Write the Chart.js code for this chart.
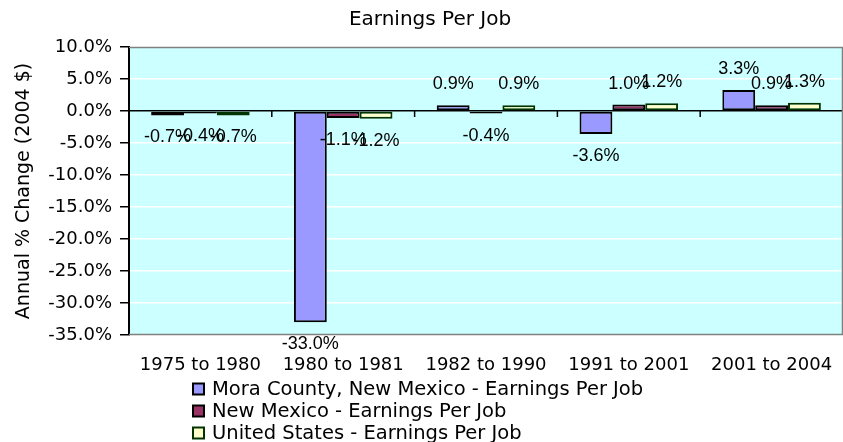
<!DOCTYPE html>
<html>
<head>
<meta charset="utf-8">
<script src="https://cdn.jsdelivr.net/npm/chart.js@4.4.1/dist/chart.umd.min.js"></script>
<style>
  html, body { margin: 0; padding: 0; background: #fff; }
  #wrap { width: 843px; height: 442px; position: relative; }
</style>
</head>
<body>
<div id="wrap"><canvas id="chart"></canvas></div>
<script>
// --- data ---
const categories = ['1975 to 1980', '1980 to 1981', '1982 to 1990', '1991 to 2001', '2001 to 2004'];
const moraCounty = [-0.7, -33.0, 0.9, -3.6, 3.3];
const newMexico = [-0.4, -1.1, -0.4, 1.0, 0.9];
const unitedStates = [-0.7, -1.2, 0.9, 1.2, 1.3];
const seriesNames = [
  'Mora County, New Mexico - Earnings Per Job',
  'New Mexico - Earnings Per Job',
  'United States - Earnings Per Job'
];
const yTicks = { min: -35, max: 10, step: 5 };

const WIDE = '"DejaVu Sans", sans-serif';
const ARIAL = '"Liberation Sans", Arial, sans-serif';

// title, axis title, data labels, legend, plot border
const extras = {
  id: 'extras',
  afterDatasetsDraw(chart) {
    const { ctx, chartArea: a, scales: { x, y } } = chart;
    ctx.save();
    // short tick marks on the zero line between categories
    const y0 = y.getPixelForValue(0);
    ctx.strokeStyle = '#000';
    ctx.lineWidth = 1.5;
    for (let i = 1; i < categories.length; i++) {
      const bx = (x.getPixelForValue(i - 1) + x.getPixelForValue(i)) / 2;
      ctx.beginPath();
      ctx.moveTo(bx, y0);
      ctx.lineTo(bx, y0 + 6);
      ctx.stroke();
    }
    // grey plot border
    ctx.strokeStyle = '#808080';
    ctx.lineWidth = 1.5;
    ctx.beginPath();
    ctx.moveTo(a.left, a.top + 0.5);
    ctx.lineTo(a.right - 0.5, a.top + 0.5);
    ctx.lineTo(a.right - 0.5, a.bottom - 0.5);
    ctx.lineTo(a.left, a.bottom - 0.5);
    ctx.stroke();

    // data labels
    ctx.fillStyle = '#000';
    ctx.font = '18px ' + ARIAL;
    ctx.textAlign = 'center';
    ctx.textBaseline = 'middle';
    chart.data.datasets.forEach((ds, di) => {
      chart.getDatasetMeta(di).data.forEach((el, i) => {
        const v = ds.data[i];
        const ly = v >= 0 ? el.y - 21 : el.y + 22;
        ctx.fillText(v.toFixed(1) + '%', el.x, ly);
      });
    });

    // chart title
    ctx.font = '20px ' + WIDE;
    ctx.fillText('Earnings Per Job', 430, 20);

    // y axis title
    ctx.save();
    ctx.font = '19px ' + WIDE;
    ctx.translate(24, (a.top + a.bottom) / 2);
    ctx.rotate(-Math.PI / 2);
    ctx.fillText('Annual % Change (2004 $)', 0, 0);
    ctx.restore();

    // legend
    ctx.textAlign = 'left';
    ctx.font = '19.5px ' + WIDE;
    chart.data.datasets.forEach((ds, i) => {
      const ly = 389 + i * 22;
      ctx.fillStyle = ds.backgroundColor;
      ctx.fillRect(193, ly - 5.5, 11, 11);
      ctx.strokeStyle = ds.borderColor;
      ctx.lineWidth = 2;
      ctx.strokeRect(193, ly - 5.5, 11, 11);
      ctx.fillStyle = '#000';
      ctx.fillText(ds.label, 212, ly + 1);
    });
    ctx.restore();
  }
};

const plotBg = {
  id: 'plotBg',
  beforeDraw(chart) {
    const { ctx, chartArea: a } = chart;
    ctx.save();
    ctx.fillStyle = '#CCFFFF';
    ctx.fillRect(a.left, a.top, a.right - a.left, a.bottom - a.top);
    ctx.restore();
  }
};

new Chart(document.getElementById('chart'), {
  type: 'bar',
  data: {
    labels: categories,
    datasets: [
      { label: seriesNames[0], data: moraCounty, backgroundColor: '#9999FF', borderColor: '#000000' },
      { label: seriesNames[1], data: newMexico, backgroundColor: '#993366', borderColor: '#000000' },
      { label: seriesNames[2], data: unitedStates, backgroundColor: '#FFFFCC', borderColor: '#003300' }
    ]
  },
  options: {
    responsive: true,
    maintainAspectRatio: false,
    animation: false,
    devicePixelRatio: 1,
    layout: { padding: { top: 47, left: 0, right: 0, bottom: 0 } },
    datasets: {
      bar: { borderWidth: 2, borderSkipped: false, categoryPercentage: 0.69, barPercentage: 1 }
    },
    plugins: {
      legend: { display: false },
      title: { display: false },
      tooltip: { enabled: false }
    },
    scales: {
      x: {
        grid: { display: false, drawTicks: false },
        border: { display: false },
        ticks: { color: '#000', font: { family: WIDE, size: 18 }, padding: 20, maxRotation: 0 },
        afterFit(scale) {
          scale.height = 442 - 335;
          scale.paddingLeft = 0;
          scale.paddingRight = 0;
        }
      },
      y: {
        min: yTicks.min,
        max: yTicks.max,
        ticks: {
          stepSize: yTicks.step,
          color: '#000',
          font: { family: WIDE, size: 18 },
          padding: 8,
          callback: v => v.toFixed(1) + '%'
        },
        grid: {
          color: c => (c.tick && c.tick.value === 0 ? '#000' : '#fff'),
          lineWidth: 1.5,
          tickColor: '#000',
          tickLength: 9
        },
        border: { display: true, color: '#000', width: 2 },
        afterFit(scale) { scale.width = 129; }
      }
    }
  },
  plugins: [plotBg, extras]
});
</script>
</body>
</html>
